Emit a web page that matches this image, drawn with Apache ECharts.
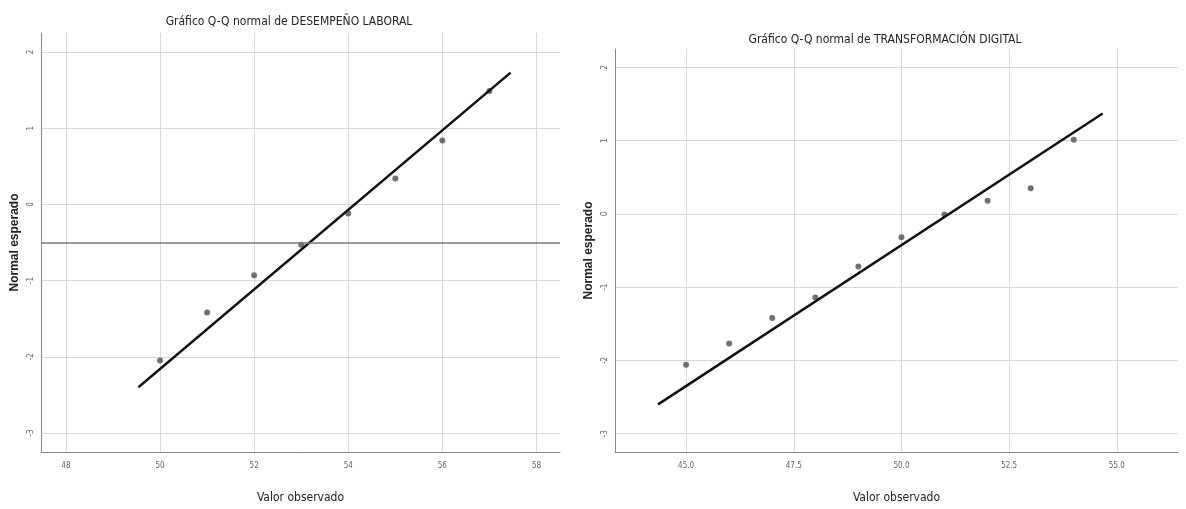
<!DOCTYPE html>
<html>
<head>
<meta charset="utf-8">
<script src="https://cdn.jsdelivr.net/npm/echarts@6/dist/echarts.min.js"></script>
<style>
    html, body { margin: 0; padding: 0; background: #fff; }
    #qqCharts { width: 1186px; height: 509px; }
</style>
</head>
<body>
<div id="qqCharts"></div>
<script>
    // DESEMPEÑO LABORAL
    var desempenoObs = [50, 51, 52, 53, 54, 55, 56, 57];
    var desempenoEsp = [-2.05, -1.42, -0.93, -0.53, -0.12, 0.34, 0.84, 1.49];
    var desempenoLineaX = [49.54, 57.45];
    var desempenoLineaY = [-2.40, 1.73];
    var desempenoRef = -0.5;
    var desempenoTicksX = [48, 50, 52, 54, 56, 58];

    // TRANSFORMACIÓN DIGITAL
    var transfObs = [45, 46, 47, 48, 49, 50, 51, 52, 53, 54];
    var transfEsp = [-2.06, -1.77, -1.42, -1.14, -0.72, -0.32, -0.01, 0.18, 0.35, 1.01];
    var transfLineaX = [44.35, 54.67];
    var transfLineaY = [-2.60, 1.37];
    var transfTicksX = [45, 47.5, 50, 52.5, 55];

    var ticksY = [-3, -2, -1, 0, 1, 2];

    var fuente = '"DejaVu Sans Condensed", "Liberation Sans Narrow", "Liberation Sans", Arial, sans-serif';

    function pares(xs, ys) {
        return xs.map(function (x, i) { return [x, ys[i]]; });
    }

    function ejeX(idx, min, max, ticks, decimales) {
        return {
            type: 'value',
            gridIndex: idx,
            min: min,
            max: max,
            name: 'Valor observado',
            nameLocation: 'middle',
            nameGap: 40,
            nameTextStyle: { fontFamily: fuente, fontSize: 12, color: '#222' },
            axisLine: { show: true, onZero: false, lineStyle: { color: '#888', width: 1 } },
            axisTick: { show: false, customValues: ticks },
            axisLabel: {
                customValues: ticks,
                fontFamily: fuente, fontSize: 8, color: '#666', margin: 10,
                formatter: function (v) { return decimales ? v.toFixed(1) : String(v); }
            },
            splitLine: { show: true, lineStyle: { color: '#d8d8d8', width: 1 } }
        };
    }

    function ejeY(idx, min, max) {
        return {
            type: 'value',
            gridIndex: idx,
            min: min,
            max: max,
            name: 'Normal esperado',
            nameLocation: 'middle',
            nameGap: 20,
            nameTextStyle: { fontFamily: '"Liberation Sans", Arial, sans-serif', fontSize: 12, fontWeight: 'bold', color: '#222' },
            axisLine: { show: true, onZero: false, lineStyle: { color: '#888', width: 1 } },
            axisTick: { show: false, customValues: ticksY },
            axisLabel: { customValues: ticksY, fontFamily: fuente, fontSize: 8, color: '#666', rotate: 90, margin: 6 },
            splitLine: { show: true, lineStyle: { color: '#d8d8d8', width: 1 } }
        };
    }

    var option = {
        backgroundColor: '#fff',
        animation: false,
        title: [{
            text: 'Gráfico Q-Q normal de DESEMPEÑO LABORAL',
            left: 284, top: 11, textAlign: 'center',
            textStyle: { fontFamily: fuente, fontSize: 12, fontWeight: 'normal', color: '#222' }
        }, {
            text: 'Gráfico Q-Q normal de TRANSFORMACIÓN DIGITAL',
            left: 880, top: 29, textAlign: 'center',
            textStyle: { fontFamily: fuente, fontSize: 12, fontWeight: 'normal', color: '#222' }
        }],
        grid: [
            { left: 41, top: 33, width: 519, height: 421 },
            { left: 615, top: 49, width: 563, height: 405 }
        ],
        xAxis: [
            ejeX(0, 47.47, 58.5, desempenoTicksX, false),
            ejeX(1, 43.35, 56.42, transfTicksX, true)
        ],
        yAxis: [
            ejeY(0, -3.25, 2.25),
            ejeY(1, -3.25, 2.25)
        ],
        series: [{
            type: 'scatter',
            xAxisIndex: 0, yAxisIndex: 0,
            data: pares(desempenoObs, desempenoEsp),
            symbolSize: 6,
            itemStyle: { color: '#4d4d4d' },
            markLine: {
                silent: true,
                symbol: 'none',
                label: { show: false },
                lineStyle: { color: '#777', width: 1.5, type: 'solid' },
                data: [{ yAxis: desempenoRef }]
            }
        }, {
            type: 'line',
            xAxisIndex: 0, yAxisIndex: 0,
            data: pares(desempenoLineaX, desempenoLineaY),
            showSymbol: false,
            lineStyle: { color: '#111', width: 2.5 }
        }, {
            type: 'scatter',
            xAxisIndex: 1, yAxisIndex: 1,
            data: pares(transfObs, transfEsp),
            symbolSize: 6,
            itemStyle: { color: '#4d4d4d' }
        }, {
            type: 'line',
            xAxisIndex: 1, yAxisIndex: 1,
            data: pares(transfLineaX, transfLineaY),
            showSymbol: false,
            lineStyle: { color: '#111', width: 2.5 }
        }]
    };

    var chart = echarts.init(document.getElementById('qqCharts'));
    chart.setOption(option);
</script>
</body>
</html>
